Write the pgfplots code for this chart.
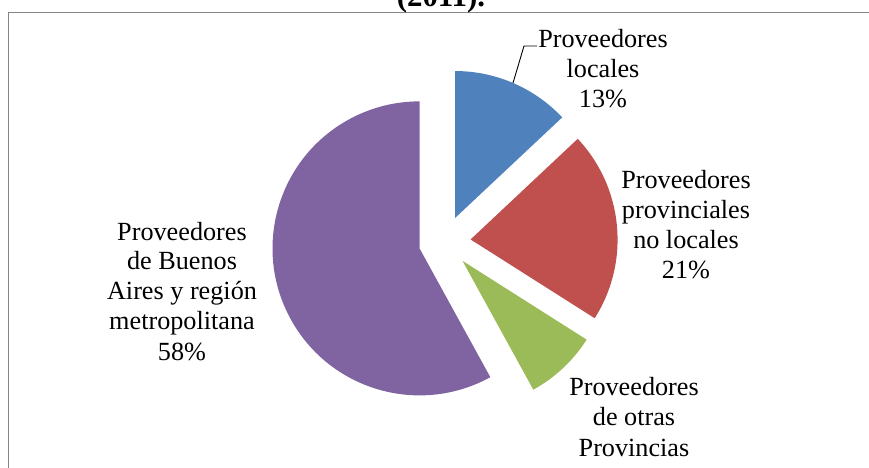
\documentclass[border=0pt]{standalone}
\usepackage{fontspec}
\setmainfont{Liberation Serif}
\usepackage{pgfplots}
\usepackage{pgfplotstable}
\pgfplotsset{compat=1.18}
\definecolor{blueS}{RGB}{79,129,189}
\definecolor{redS}{RGB}{192,80,77}
\definecolor{greenS}{RGB}{155,187,89}
\definecolor{purpleS}{RGB}{128,100,162}
\definecolor{frameG}{RGB}{134,134,134}
\pgfplotstableread{
value color
13 blueS
21 redS
8 greenS
58 purpleS
}\datatable
\newcommand{\lbl}{\fontsize{26.3}{30.1}\selectfont}
\begin{document}
\begin{tikzpicture}
\clip (0,0) rectangle (869bp,468bp);
\begin{axis}[
  width=869bp, height=468bp, scale only axis,
  xmin=0, xmax=869, ymin=0, ymax=468,
  hide axis, clip=false,
]
% frame
\draw[frameG, line width=1.3bp] (axis cs:8.5,0) -- (axis cs:8.5,455.5) -- (axis cs:880,455.5);
% title (cut off at top)
\node[anchor=base, font=\fontsize{31}{34}\selectfont\bfseries] at (axis cs:441,461) {(2011).};
% slices
\pgfmathsetmacro\cum{0}
\pgfplotsforeachungrouped \i in {0,...,3}{%
  \pgfplotstablegetelem{\i}{value}\of\datatable \let\v\pgfplotsretval
  \pgfplotstablegetelem{\i}{color}\of\datatable \let\c\pgfplotsretval
  \pgfmathsetmacro\sa{90-3.6*\cum}%
  \pgfmathsetmacro\ea{\sa-3.6*\v}%
  \pgfmathsetmacro\ma{(\sa+\ea)/2}%
  \pgfmathsetmacro\cx{444.7+26*cos(\ma)}%
  \pgfmathsetmacro\cy{226.1+26*sin(\ma)}%
  \edef\temp{\noexpand\fill[\c] (axis cs:\cx,\cy) -- ++(\sa:147bp) arc[start angle=\sa, end angle=\ea, radius=147bp] -- cycle;}%
  \temp
  \pgfmathsetmacro\cum{\cum+\v}%
}
% leader line
\draw[black, line width=0.9bp] (axis cs:513,385) -- (axis cs:524,422) -- (axis cs:537,422);
% labels: blue
\node[anchor=base, font=\lbl] at (axis cs:603,420) {Proveedores};
\node[anchor=base, font=\lbl] at (axis cs:603,390) {locales};
\node[anchor=base, font=\lbl] at (axis cs:603,360) {13\%};
% red
\node[anchor=base, font=\lbl] at (axis cs:686,279) {Proveedores};
\node[anchor=base, font=\lbl] at (axis cs:686,249) {provinciales};
\node[anchor=base, font=\lbl] at (axis cs:686,219) {no locales};
\node[anchor=base, font=\lbl] at (axis cs:686,189) {21\%};
% green
\node[anchor=base, font=\lbl] at (axis cs:634,72) {Proveedores};
\node[anchor=base, font=\lbl] at (axis cs:634,42) {de otras};
\node[anchor=base, font=\lbl] at (axis cs:634,12) {Provincias};
\node[anchor=base, font=\lbl] at (axis cs:634,-18) {8\%};
% purple
\node[anchor=base, font=\lbl] at (axis cs:182,227) {Proveedores};
\node[anchor=base, font=\lbl] at (axis cs:182,198) {de Buenos};
\node[anchor=base, font=\lbl] at (axis cs:182,168) {Aires y región};
\node[anchor=base, font=\lbl] at (axis cs:182,138) {metropolitana};
\node[anchor=base, font=\lbl] at (axis cs:182,107) {58\%};
\end{axis}
\end{tikzpicture}
\end{document}
